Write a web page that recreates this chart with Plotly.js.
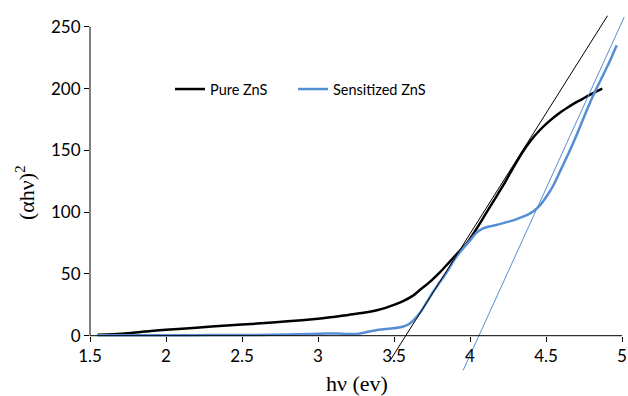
<!DOCTYPE html>
<html>
<head>
<meta charset="utf-8">
<script src="https://cdn.plot.ly/plotly-3.0.1.min.js"></script>
<style>html,body{margin:0;padding:0;background:#fff;}#chart{width:628px;height:396px;}</style>
</head>
<body>
<div id="chart"></div>
<script>
// Pure ZnS
const pureX = [1.55,1.65,1.77,1.9,2.0,2.2,2.4,2.6,2.8,3.0,3.1,3.2,3.3,3.4,3.5,3.56,3.62,3.68,3.74,3.8,3.86,3.92,3.98,4.04,4.1,4.16,4.22,4.28,4.34,4.4,4.46,4.52,4.58,4.64,4.7,4.76,4.82,4.87];
const pureY = [0.8,1.2,2.2,3.8,4.8,6.5,8.2,9.8,11.6,13.8,15.1,16.8,18.5,21,25,28,32,38,44,51,59,67,75,86,98,110,122,135,147.5,158,166.5,173.5,179.5,184.5,189,193,197,200];
// Sensitized ZnS
const sensX = [1.55,1.8,2.0,2.3,2.6,2.8,2.95,3.05,3.12,3.2,3.27,3.33,3.4,3.48,3.55,3.6,3.64,3.68,3.72,3.76,3.8,3.85,3.9,3.95,4.0,4.04,4.08,4.13,4.2,4.26,4.32,4.38,4.42,4.46,4.5,4.55,4.6,4.65,4.7,4.76,4.82,4.88,4.93,4.965];
const sensY = [0.3,0.3,0.4,0.5,0.6,0.9,1.4,1.8,1.8,1.4,1.6,3.2,4.8,5.8,7,9.5,14,20,28,36,43,52,62,70,77,83,86.5,88.5,90.5,92.5,95,98,101,105.5,112,122,135,148,162,180,197,212,225,235];
// Tangent (extrapolation) lines
const pureTanX = [3.48, 4.905];
const pureTanY = [-19, 259];
const sensTanX = [3.955, 5.015];
const sensTanY = [-28, 258];
// Ticks
const xTicks = [1.5,2,2.5,3,3.5,4,4.5,5];
const xTickText = ['1.5','2','2.5','3','3.5','4','4.5','5'];
const yTicks = [0,50,100,150,200,250];
const yTickText = ['0','50','100','150','200','250'];

const BLUE = '#558ED5';
const yMin = -31, yMax = 262;

const traces = [
  {x: pureX, y: pureY, type:'scatter', mode:'lines', name:'Pure ZnS', legend:'legend',
   line:{color:'#000000', width:2.5, shape:'spline', smoothing:0.8}},
  {x: sensX, y: sensY, type:'scatter', mode:'lines', name:'Sensitized ZnS', legend:'legend2',
   line:{color:BLUE, width:2.5, shape:'spline', smoothing:0.8}},
  {x: pureTanX, y: pureTanY, type:'scatter', mode:'lines', showlegend:false,
   line:{color:'#000000', width:1}},
  {x: sensTanX, y: sensTanY, type:'scatter', mode:'lines', showlegend:false,
   line:{color:BLUE, width:1}}
];

const legendFont = {family:'Lato, sans-serif', size:14.5, color:'#000'};
const tickFont = {family:'Lato, sans-serif', size:17, color:'#000'};
const titleFont = {family:'Liberation Serif, serif', size:22, color:'#000'};

const layout = {
  width:628, height:396,
  margin:{l:90, r:1, t:12, b:22},
  paper_bgcolor:'#ffffff', plot_bgcolor:'#ffffff',
  font:{family:'Lato, sans-serif', size:16, color:'#000'},
  showlegend:true,
  legend:{orientation:'h', x:0.149, y:0.787, xanchor:'left', yanchor:'middle',
          bgcolor:'rgba(0,0,0,0)', font:legendFont},
  legend2:{orientation:'h', x:0.378, y:0.787, xanchor:'left', yanchor:'middle',
          bgcolor:'rgba(0,0,0,0)', font:legendFont},
  xaxis:{range:[1.5, 1.5+537/152], tickvals:xTicks, ticktext:xTickText,
         showline:false, showgrid:false, zeroline:false,
         ticks:'outside', ticklen:5, tickcolor:'#000', tickwidth:1,
         anchor:'free', position:(0-yMin)/(yMax-yMin),
         tickfont:tickFont},
  yaxis:{range:[yMin, yMax], tickvals:yTicks, ticktext:yTickText,
         showline:false, showgrid:false, zeroline:false,
         ticks:'outside', ticklen:5, tickcolor:'#000', tickwidth:1,
         tickfont:tickFont},
  shapes:[
    {type:'line', xref:'x', yref:'y', x0:1.5, x1:5, y0:0, y1:0, line:{color:'#000', width:1}},
    {type:'line', xref:'paper', yref:'y', x0:0, x1:0, y0:0, y1:250, line:{color:'#000', width:1}}
  ],
  annotations:[
    {text:'hν (ev)', xref:'paper', yref:'paper', x:0.497, y:-0.025, xanchor:'center', yanchor:'middle',
     showarrow:false, font:titleFont},
    {text:'(αhν)<sup>2</sup>', xref:'paper', yref:'paper', x:-0.121, y:0.5, xanchor:'center', yanchor:'middle',
     textangle:-90, showarrow:false, font:titleFont}
  ]
};

Plotly.newPlot('chart', traces, layout, {displayModeBar:false, staticPlot:true});
</script>
</body>
</html>
